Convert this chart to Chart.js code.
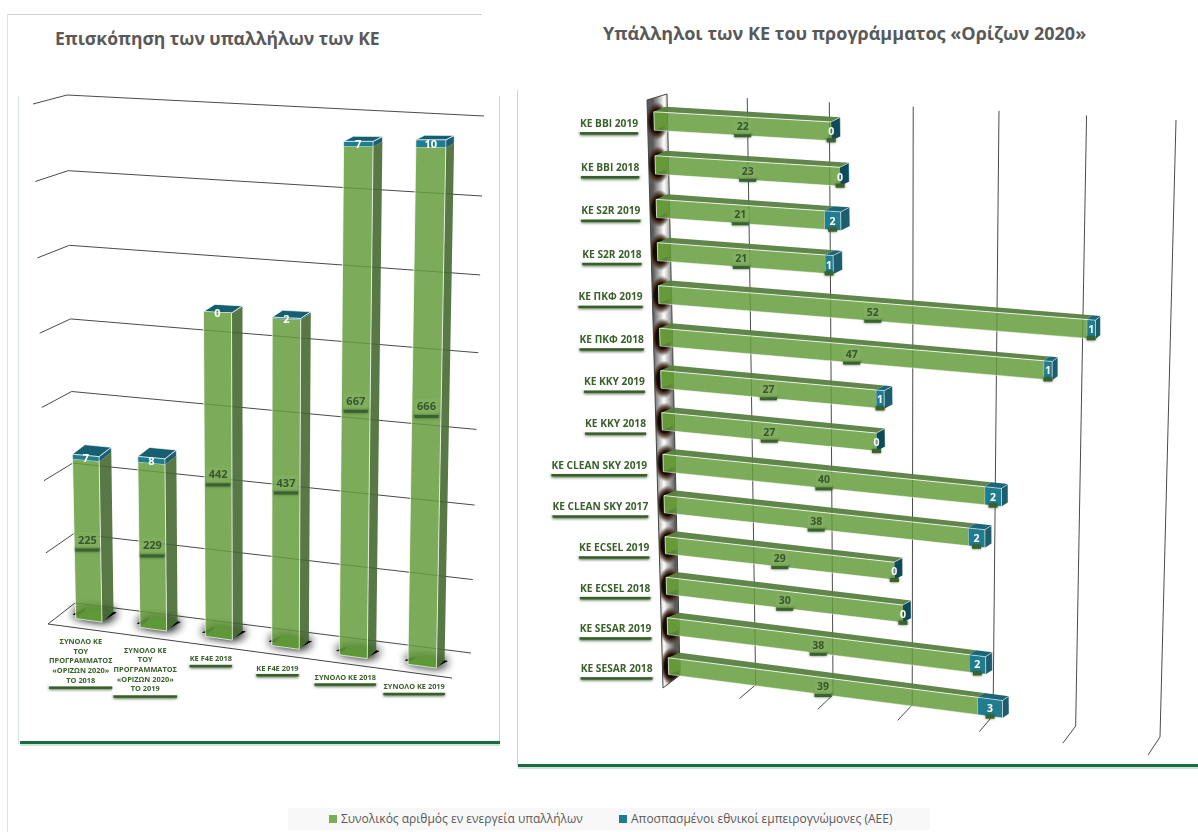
<!DOCTYPE html>
<html lang="el">
<head>
<meta charset="utf-8">
<title>Υπάλληλοι των ΚΕ</title>
<script src="https://cdn.jsdelivr.net/npm/chart.js@4/dist/chart.umd.min.js"></script>
<style>
    html, body { margin: 0; padding: 0; background: #fff; }
    body { position: relative; width: 1198px; height: 832px; overflow: hidden; font-family: "Open Sans", sans-serif; }
    canvas { position: absolute; top: 0; }
    #graphique-total { left: 0; }
    #graphique-ke { left: 510px; }
    .titre { position: absolute; margin: 0; font-weight: 700; color: #595959; white-space: nowrap; }
    .trait { position: absolute; }
    #legende { position: absolute; left: 288px; top: 808px; width: 642px; height: 22px; background: #f8f8f8; color: #595959; font-size: 12px; line-height: 22px; }
    #legende span { position: absolute; white-space: nowrap; }
    #legende i { display: inline-block; width: 8px; height: 8px; margin-right: 4px; }
</style>
</head>
<body>

<div class="trait" style="left:7px;top:14px;width:475px;height:1px;background:#cfcfcf"></div>
<div class="trait" style="left:7px;top:14px;width:1px;height:818px;background:#d3e6dc"></div>
<div class="trait" style="left:18px;top:96px;width:1px;height:648px;background:#d3e6dc"></div>
<div class="trait" style="left:499px;top:96px;width:1px;height:648px;background:#c4dccf"></div>
<div class="trait" style="left:517px;top:90px;width:1px;height:676px;background:#c4dccf"></div>
<div class="trait" style="left:20px;top:741px;width:480px;height:3px;background:#1a6b3f"></div>
<div class="trait" style="left:20px;top:744px;width:480px;height:2px;background:#cfe3d8"></div>
<div class="trait" style="left:518px;top:764px;width:680px;height:3px;background:#1a6b3f"></div>
<div class="trait" style="left:518px;top:767px;width:680px;height:2px;background:#cfe3d8"></div>

<h2 class="titre" style="left:55px;top:26px;font-size:17.5px">Επισκόπηση των υπαλλήλων των ΚΕ</h2>
<h2 class="titre" style="left:603px;top:21px;font-size:18px">Υπάλληλοι των ΚΕ του προγράμματος «Ορίζων 2020»</h2>

<canvas id="graphique-total" width="510" height="832"></canvas>
<canvas id="graphique-ke" width="688" height="832"></canvas>

<div id="legende"></div>

<script>
// donnees
const serieEnEnergeia = "Συνολικός αριθμός εν ενεργεία υπαλλήλων";
const serieAee = "Αποσπασμένοι εθνικοί εμπειρογνώμονες (ΑΕΕ)";

const categoriesTotal = [
    ["ΣΥΝΟΛΟ ΚΕ", "ΤΟΥ", "ΠΡΟΓΡΑΜΜΑΤΟΣ", "«ΟΡΙΖΩΝ 2020»", "ΤΟ 2018"],
    ["ΣΥΝΟΛΟ ΚΕ", "ΤΟΥ", "ΠΡΟΓΡΑΜΜΑΤΟΣ", "«ΟΡΙΖΩΝ 2020»", "ΤΟ 2019"],
    "ΚΕ F4E 2018", "ΚΕ F4E 2019", "ΣΥΝΟΛΟ ΚΕ 2018", "ΣΥΝΟΛΟ ΚΕ 2019"
];
const totalEnEnergeia = [225, 229, 442, 437, 667, 666];
const totalAee = [7, 8, 0, 2, 7, 10];

const categoriesKe = [
    "ΚΕ BBI 2019", "ΚΕ BBI 2018", "ΚΕ S2R 2019", "ΚΕ S2R 2018", "ΚΕ ΠΚΦ 2019", "ΚΕ ΠΚΦ 2018", "ΚΕ ΚΚΥ 2019",
    "ΚΕ ΚΚΥ 2018", "ΚΕ CLEAN SKY 2019", "ΚΕ CLEAN SKY 2017", "ΚΕ ECSEL 2019", "ΚΕ ECSEL 2018", "ΚΕ SESAR 2019", "ΚΕ SESAR 2018"
];
const keEnEnergeia = [22, 23, 21, 21, 52, 47, 27, 27, 40, 38, 29, 30, 38, 39];
const keAee = [0, 0, 2, 1, 1, 1, 1, 0, 2, 2, 0, 0, 2, 3];

const vert = "#7cab5a";
const bleu = "#207c8f";
const vertFace = "rgba(101,156,61,0.85)";

// perspective : coins haut-gauche, haut-droit, bas-droit, bas-gauche, en pixels de la page
// ku et kv : courbure de la perspective sur chaque axe
const vueTotal = {
    decalage: 0,
    avant: { q: [[46, 123], [468, 121], [457, 671], [57, 616]], ku: 0.05, kv: 0 },
    arriere: { q: [[60, 116], [476, 117], [465, 663], [69, 605]], ku: 0.05, kv: 0 },
    mur: { q: [[67, 95], [484, 116], [471, 653], [75, 603]], ku: 0, kv: 0.05 },
    proche: { q: [[33, 104], [440, 128], [452, 678], [48, 624]], ku: 0, kv: 0.05 }
};
const vueKe = {
    decalage: 510,
    avant: { q: [[653.5, 99], [1158, 127], [1155, 750], [669, 686]], ku: 0.065, kv: 0.054 },
    arriere: { q: [[665.5, 94], [1162, 123], [1159, 746], [681, 681]], ku: 0.065, kv: 0.054 },
    mur: { q: [[667, 94], [1176, 120], [1160, 737], [680, 675]], ku: 0.065, kv: 0 },
    proche: { q: [[647, 100], [1150, 126], [1148, 755], [663, 688]], ku: 0.065, kv: 0 }
};

function creerPlan(p) {
    const [a, b, c, d] = p.q;
    return (u, v) => {
        const us = u - p.ku * u * (1 - u);
        const vs = v + p.kv * v * (1 - v);
        const hx = a[0] + (b[0] - a[0]) * us, hy = a[1] + (b[1] - a[1]) * us;
        const bx = d[0] + (c[0] - d[0]) * us, by = d[1] + (c[1] - d[1]) * us;
        return [hx + (bx - hx) * vs, hy + (by - hy) * vs];
    };
}

// passe des pixels du graphique (zone de tracé) aux pixels de la vue 3D
function creerProjections(chart, vue) {
    const zone = chart.chartArea;
    const proj = {};
    for (const nom of ["avant", "arriere", "mur", "proche"]) {
        const plan = creerPlan(vue[nom]);
        proj[nom] = (x, y) => plan((x - zone.left) / zone.width, (y - zone.top) / zone.height);
    }
    return proj;
}

function polygone(ctx, points, fond, trait, epaisseur) {
    ctx.beginPath();
    points.forEach((p, i) => i ? ctx.lineTo(p[0], p[1]) : ctx.moveTo(p[0], p[1]));
    ctx.closePath();
    if (fond) { ctx.fillStyle = fond; ctx.fill(); }
    if (trait) { ctx.strokeStyle = trait; ctx.lineWidth = epaisseur || 1; ctx.stroke(); }
}

function ligne(ctx, points, couleur) {
    ctx.beginPath();
    points.forEach((p, i) => i ? ctx.lineTo(p[0], p[1]) : ctx.moveTo(p[0], p[1]));
    ctx.strokeStyle = couleur;
    ctx.lineWidth = 1;
    ctx.stroke();
}

function milieu(a, b) {
    return [(a[0] + b[0]) / 2, (a[1] + b[1]) / 2];
}

function rectangleBarre(el) {
    const p = el.getProps(["x", "y", "base", "width", "height"], true);
    if (el.horizontal) {
        return { g: Math.min(p.base, p.x), d: Math.max(p.base, p.x), h: p.y - p.height / 2, b: p.y + p.height / 2 };
    }
    return { g: p.x - p.width / 2, d: p.x + p.width / 2, h: Math.min(p.base, p.y), b: Math.max(p.base, p.y) };
}

function coins(proj, r) {
    return {
        fhg: proj.avant(r.g, r.h), fhd: proj.avant(r.d, r.h), fbd: proj.avant(r.d, r.b), fbg: proj.avant(r.g, r.b),
        ahg: proj.arriere(r.g, r.h), ahd: proj.arriere(r.d, r.h), abd: proj.arriere(r.d, r.b), abg: proj.arriere(r.g, r.b)
    };
}

function etiquetteValeur(ctx, texte, x, y, l, h, fond, couleur, police, ombre) {
    if (ombre) {
        ctx.save();
        ctx.shadowColor = "rgba(40,70,30,0.8)";
        ctx.shadowBlur = 3;
        ctx.fillStyle = "#3a622e";
        ctx.fillRect(x - l / 2, y + h / 2 - 1, l, 4);
        ctx.restore();
    }
    if (fond) {
        ctx.fillStyle = fond;
        ctx.fillRect(x - l / 2, y - h / 2, l, h);
    }
    ctx.fillStyle = couleur;
    ctx.font = police;
    ctx.textAlign = "center";
    ctx.textBaseline = "middle";
    ctx.fillText(texte, x, y);
}

function etiquetteCategorie(ctx, lignes, x, y, police, interligne, alignement) {
    ctx.font = police;
    let largeur = 0;
    for (const l of lignes) largeur = Math.max(largeur, ctx.measureText(l).width);
    const hauteur = lignes.length * interligne + 3;
    const gauche = alignement === "right" ? x - largeur : x - largeur / 2;
    ctx.save();
    ctx.shadowColor = "rgba(40,70,30,0.8)";
    ctx.shadowBlur = 3;
    ctx.shadowOffsetY = 1;
    ctx.fillStyle = "#376028";
    ctx.fillRect(gauche, y + hauteur - 3, largeur, 4.5);
    ctx.restore();
    ctx.fillStyle = "#fff";
    ctx.fillRect(gauche - 1, y - 1, largeur + 2, hauteur);
    ctx.fillStyle = "#3a602b";
    ctx.textAlign = "center";
    ctx.textBaseline = "middle";
    lignes.forEach((l, i) => ctx.fillText(l, gauche + largeur / 2, y + 1 + interligne * (i + 0.5)));
}

// colonnes verticales
const pluginTotal = {
    id: "vue3dTotal",
    beforeDatasetsDraw(chart) {
        const ctx = chart.ctx, zone = chart.chartArea, proj = creerProjections(chart, vueTotal);
        const echelleY = chart.scales.y;

        // bord avant du sol
        ligne(ctx, [proj.proche(zone.left, zone.bottom), proj.proche(zone.right, zone.bottom)], "#444");

        // quadrillage
        for (const tick of echelleY.ticks) {
            const y = echelleY.getPixelForValue(tick.value);
            ligne(ctx, [proj.proche(zone.left, y), proj.mur(zone.left, y), proj.mur(zone.right, y)], "#4a4a4a");
        }

        const m0 = chart.getDatasetMeta(0).data, m1 = chart.getDatasetMeta(1).data;
        m0.forEach((el, i) => {
            const r0 = rectangleBarre(el), r1 = rectangleBarre(m1[i]);
            const c0 = coins(proj, r0), c1 = coins(proj, r1);
            const plan = [c0.fbg, c0.fbd, c0.abd, c0.abg];

            // ombre floue au sol puis fond de la boite
            const e = 3;
            const tache = [[c0.fbg[0] - e, c0.fbg[1] - 4], [c0.fbd[0] + e, c0.fbd[1] - 3], [c0.abd[0] + e, c0.abd[1] + 1], [c0.abg[0] - e, c0.abg[1] + 1]];
            ctx.save();
            ctx.shadowColor = "#000";
            ctx.shadowBlur = 11;
            polygone(ctx, tache, "#000");
            polygone(ctx, tache, "#000");
            polygone(ctx, tache, "#000");
            ctx.restore();
            polygone(ctx, plan, "#3f7f22");

            // faces de la boite
            polygone(ctx, [c0.fhd, c0.ahd, c0.abd, c0.fbd], "rgba(70,105,50,0.9)");
            polygone(ctx, [c1.fhd, c1.ahd, c0.ahd, c0.fhd], "#1d5d6e");
            polygone(ctx, [c1.ahg, c1.ahd, c1.fhd, c1.fhg], "#165f70", "rgba(255,255,255,0.6)");
            polygone(ctx, [c1.fhg, c1.fhd, c1.fbd, c1.fbg], bleu, "rgba(255,255,255,0.6)");
            polygone(ctx, [c0.fhg, c0.fhd, c0.fbd, c0.fbg], vertFace);
            ligne(ctx, [c0.fhg, c0.fbg, c0.fbd, c0.fhd], "rgba(255,255,255,0.75)");
            ligne(ctx, [c1.fhd, c1.ahd, c0.ahd], "rgba(255,255,255,0.45)");

            // etiquette de valeur verte, au milieu de la face
            const mv = milieu(milieu(c0.fhg, c0.fhd), milieu(c0.fbg, c0.fbd));
            etiquetteValeur(ctx, chart.data.datasets[0].data[i], mv[0], mv[1], 24, 16, "rgba(132,176,98,0.7)", "#38572c", "700 11px 'Open Sans'", true);

            const mb = milieu(milieu(c1.fhg, c1.fhd), milieu(c1.fbg, c1.fbd));
            etiquetteValeur(ctx, chart.data.datasets[1].data[i], mb[0], mb[1] + 1, 0, 0, null, "#fff", "700 11px 'Open Sans'", false);

            // etiquette de categorie
            const pied = proj.avant(el.x, r0.b);
            const libelle = [].concat(chart.data.labels[i]);
            etiquetteCategorie(ctx, libelle, pied[0] - 8, pied[1] + 15.5, "700 7.4px 'Open Sans'", libelle.length > 1 ? 9.7 : 9);
        });
        return false;
    }
};

// barres horizontales
const pluginKe = {
    id: "vue3dKe",
    beforeDatasetsDraw(chart) {
        const ctx = chart.ctx, zone = chart.chartArea, proj = creerProjections(chart, vueKe);
        const echelleX = chart.scales.x;

        ctx.save();
        ctx.translate(-vueKe.decalage, 0);

        // quadrillage vertical
        for (const tick of echelleX.ticks) {
            if (tick.value === 0) continue;
            const x = echelleX.getPixelForValue(tick.value);
            ligne(ctx, [proj.mur(x, zone.top), proj.mur(x, zone.bottom), proj.proche(x, zone.bottom)], "#4a4a4a");
        }

        // paroi de gauche
        const x0 = echelleX.getPixelForValue(0);
        const paroi = [proj.proche(x0, zone.top), proj.mur(x0, zone.top), proj.mur(x0, zone.bottom), proj.proche(x0, zone.bottom)];
        const degrade = ctx.createLinearGradient(paroi[0][0] + 6, 0, paroi[1][0] + 8, 0);
        degrade.addColorStop(0, "#5a5a5a");
        degrade.addColorStop(0.5, "#ffffff");
        degrade.addColorStop(1, "#5a5a5a");
        polygone(ctx, paroi, degrade);

        const m0 = chart.getDatasetMeta(0).data, m1 = chart.getDatasetMeta(1).data;

        // tache sombre de chaque barre sur la paroi
        ctx.save();
        polygone(ctx, paroi);
        ctx.clip();
        m0.forEach((el) => {
            const r = rectangleBarre(el);
            const c = milieu(proj.avant(r.g, r.h), proj.avant(r.g, r.b));
            ctx.save();
            ctx.translate(c[0] + 3, c[1]);
            ctx.scale(0.62, 1);
            const tache = ctx.createRadialGradient(0, 0, 0, 0, 0, 19);
            tache.addColorStop(0, "#0c0806");
            tache.addColorStop(0.6, "#140b06");
            tache.addColorStop(0.78, "rgba(70,35,10,0.75)");
            tache.addColorStop(1, "rgba(60,60,60,0)");
            ctx.fillStyle = tache;
            ctx.beginPath();
            ctx.arc(0, 0, 19, 0, Math.PI * 2);
            ctx.fill();
            ctx.restore();
        });
        ctx.restore();
        ligne(ctx, [paroi[0], paroi[3], paroi[2], paroi[1], paroi[0]], "#444");

        m0.forEach((el, i) => {
            const r0 = rectangleBarre(el), r1 = rectangleBarre(m1[i]);
            const c0 = coins(proj, r0), c1 = coins(proj, r1);

            // face cachee et dessus de la barre verte
            polygone(ctx, [c0.fhg, c0.ahg, c0.abg, c0.fbg], "#6d8a1e");
            polygone(ctx, [c0.fhg, c0.fhd, c0.ahd, c0.ahg], "rgba(88,128,66,0.95)");

            // segment bleu
            polygone(ctx, [c1.fhd, c1.ahd, c1.abd, c1.fbd], keAee[i] === 0 ? "#0e4a58" : "#1d5d6e");
            polygone(ctx, [c1.fhg, c1.fhd, c1.ahd, c1.ahg], "#1c6678");
            if (keAee[i] > 0) polygone(ctx, [c1.fhg, c1.fhd, c1.fbd, c1.fbg], bleu, "rgba(255,255,255,0.55)");
            ligne(ctx, [c1.fhd, c1.ahd, c1.abd], "rgba(255,255,255,0.5)");

            // face avant verte
            polygone(ctx, [c0.fhg, c0.fhd, c0.fbd, c0.fbg], vertFace);
            ligne(ctx, [c0.fhg, c0.fhd], "rgba(255,255,255,0.8)");
            ligne(ctx, [c0.fbg, c0.fbd], "rgba(255,255,255,0.5)");
            ligne(ctx, [c0.fhg, c0.fbg], "rgba(255,255,255,0.7)");

            // etiquettes
            const mv = milieu(milieu(c0.fhg, c0.fhd), milieu(c0.fbg, c0.fbd));
            etiquetteValeur(ctx, chart.data.datasets[0].data[i], mv[0], mv[1] + 1, 17, 14, "rgba(132,176,98,0.75)", "#38572c", "700 10.5px 'Open Sans'", true);
            const mb = milieu(milieu(c1.fhg, c1.fhd), milieu(c1.fbg, c1.fbd));
            etiquetteValeur(ctx, chart.data.datasets[1].data[i], mb[0], mb[1] + 1, 9, 14, null, "#fff", "700 10.5px 'Open Sans'", true);

            const pied = milieu(c0.fhg, c0.fbg);
            etiquetteCategorie(ctx, [chart.data.labels[i]], pied[0] - 16, pied[1] - 5, "700 10.2px 'Open Sans'", 14, "right");
        });

        ctx.restore();
        return false;
    }
};

function optionsGraphique(axeValeurs) {
    return {
        responsive: false,
        animation: false,
        indexAxis: axeValeurs === "y" ? "x" : "y",
        layout: { padding: 0 },
        plugins: { legend: { display: false }, tooltip: { enabled: false } },
        scales: {
            x: { stacked: true, display: false },
            y: { stacked: true, display: false }
        }
    };
}

const optionsTotal = optionsGraphique("y");
optionsTotal.scales.y.min = 0;
optionsTotal.scales.y.max = 700;
optionsTotal.scales.y.ticks = { stepSize: 100 };

const optionsKe = optionsGraphique("x");
optionsKe.scales.x.min = 0;
optionsKe.scales.x.max = 60;
optionsKe.scales.x.ticks = { stepSize: 10 };

new Chart(document.querySelector("#graphique-total"), {
    type: "bar",
    data: {
        labels: categoriesTotal,
        datasets: [
            { label: serieEnEnergeia, data: totalEnEnergeia, backgroundColor: vert, barPercentage: 0.41, categoryPercentage: 1 },
            { label: serieAee, data: totalAee, backgroundColor: bleu, barPercentage: 0.41, categoryPercentage: 1 }
        ]
    },
    options: optionsTotal,
    plugins: [pluginTotal]
});

const graphiqueKe = new Chart(document.querySelector("#graphique-ke"), {
    type: "bar",
    data: {
        labels: categoriesKe,
        datasets: [
            { label: serieEnEnergeia, data: keEnEnergeia, backgroundColor: vert, barPercentage: 0.42, categoryPercentage: 1 },
            { label: serieAee, data: keAee, backgroundColor: bleu, barPercentage: 0.42, categoryPercentage: 1 }
        ]
    },
    options: optionsKe,
    plugins: [pluginKe]
});

// legende commune
const legende = document.querySelector("#legende");
const positionsLegende = [41, 331];
graphiqueKe.data.datasets.forEach((ds, i) => {
    const item = document.createElement("span");
    item.style.left = positionsLegende[i] + "px";
    item.innerHTML = `<i style="background:${ds.backgroundColor}"></i>${ds.label}`;
    legende.appendChild(item);
});
</script>
</body>
</html>
